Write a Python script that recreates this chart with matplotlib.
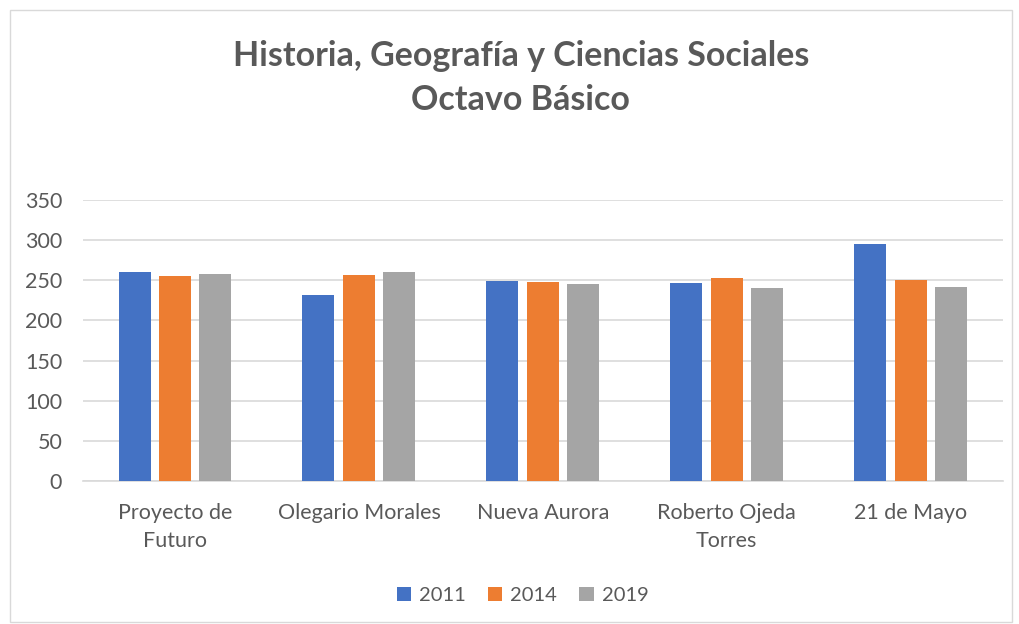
import numpy as np
import matplotlib.pyplot as plt
from matplotlib.patches import Rectangle

plt.rcParams['font.family'] = ['Lato', 'DejaVu Sans']

escuelas = ['Proyecto de\nFuturo', 'Olegario Morales', 'Nueva Aurora',
            'Roberto Ojeda\nTorres', '21 de Mayo']
anios = ['2011', '2014', '2019']
v2011 = [260, 232, 249, 247, 295]
v2014 = [255, 257, 248, 253, 250]
v2019 = [258, 260, 245, 240, 242]
colores = ['#4472C4', '#ED7D31', '#A5A5A5']
gris = '#595959'

fig = plt.figure(figsize=(10.19, 6.24), dpi=100)
ax = fig.add_axes([0.0815, 0.229, 0.9025, 0.4505])

x = np.arange(len(escuelas))
ancho = 0.174
paso = 0.22
for i, (serie, c, lab) in enumerate(zip([v2011, v2014, v2019], colores, anios)):
    ax.bar(x + (i - 1) * paso, serie, width=ancho, color=c, label=lab, zorder=3)

ax.set_xlim(-0.5, len(escuelas) - 0.5)
ax.set_ylim(0, 350)
ax.set_yticks(np.arange(0, 351, 50))
ax.yaxis.grid(True, color='#D9D9D9', linewidth=1.2, zorder=0)
ax.set_xticks(x)
ax.set_xticklabels(escuelas, linespacing=1.5)
ax.tick_params(axis='both', length=0, labelsize=15.5, colors=gris)
ax.tick_params(axis='x', pad=16)
ax.tick_params(axis='y', pad=15)
for s in ['top', 'right', 'left']:
    ax.spines[s].set_visible(False)
ax.spines['bottom'].set_color('#D9D9D9')
ax.spines['bottom'].set_linewidth(1.2)

fig.text(0.511, 0.875, 'Historia, Geografía y Ciencias Sociales\nOctavo Básico',
         ha='center', va='center', fontsize=24.5, fontweight='bold', color=gris,
         linespacing=1.45)

leg = fig.legend(loc='center', bbox_to_anchor=(0.513, 0.046), ncol=3, frameon=False,
                 fontsize=14.5, handlelength=0.7, handleheight=0.7,
                 columnspacing=1.1, handletextpad=0.4)
for t in leg.get_texts():
    t.set_color(gris)

fig.patches.append(Rectangle((10 / 1019, 0.003), 1002 / 1019, 1 - 10 / 624 - 0.003,
                             transform=fig.transFigure, fill=False,
                             edgecolor='#D9D9D9', linewidth=1))

plt.savefig('out.png', dpi=100)
